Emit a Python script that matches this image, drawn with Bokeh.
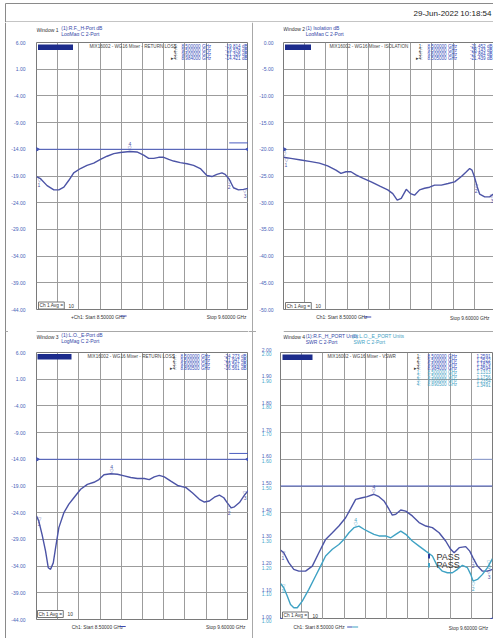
import numpy as np
from bokeh.plotting import figure
from bokeh.models import (Range1d, FixedTicker, Label, BoxAnnotation, Span,
                          NumeralTickFormatter)
from bokeh.layouts import column, row
from bokeh.embed import file_html
from bokeh.resources import INLINE
from bokeh.core.properties import value

# ---------------------------------------------------------------- data
FREQ_START = 8.5
FREQ_STOP = 9.6

# Window 1 : R.F. H-port return loss (dB)
rf_freq = [8.500, 8.521, 8.555, 8.590, 8.616, 8.642, 8.668, 8.693, 8.728, 8.762,
           8.797, 8.832, 8.866, 8.901, 8.935, 8.984, 9.021, 9.056, 9.082, 9.108,
           9.134, 9.160, 9.186, 9.211, 9.246, 9.281, 9.315, 9.350, 9.384, 9.410,
           9.436, 9.462, 9.479, 9.500, 9.522, 9.548, 9.574, 9.600]
rf_db = [-19.1, -19.5, -20.8, -21.6, -21.6, -21.1, -19.8, -18.4, -17.6, -17.0,
         -16.6, -15.9, -15.3, -14.8, -14.6, -14.4, -14.5, -15.1, -15.7, -15.7,
         -15.5, -15.5, -15.9, -16.2, -16.5, -16.7, -17.0, -17.6, -18.9, -19.1,
         -18.7, -18.4, -18.7, -19.6, -21.2, -21.6, -21.5, -21.3]

# Window 2 : isolation (dB)
iso_freq = [8.500, 8.538, 8.590, 8.642, 8.686, 8.729, 8.772, 8.798, 8.824, 8.850,
            8.876, 8.911, 8.955, 9.000, 9.041, 9.067, 9.090, 9.111, 9.137, 9.159,
            9.180, 9.206, 9.232, 9.258, 9.284, 9.319, 9.354, 9.388, 9.423, 9.449,
            9.466, 9.478, 9.490, 9.505, 9.518, 9.544, 9.570, 9.600]
iso_db = [-21.5, -21.7, -22.0, -22.3, -22.6, -23.1, -23.9, -24.5, -24.2, -24.2,
          -24.8, -25.4, -26.1, -26.9, -27.6, -28.3, -29.5, -29.2, -27.5, -28.3,
          -28.6, -27.6, -27.3, -27.1, -26.7, -26.7, -26.4, -26.1, -25.1, -24.2,
          -23.6, -23.9, -25.1, -27.0, -28.4, -28.9, -28.9, -28.1]

# Window 3 : L.O. E-port return loss (dB)
lo_freq = [8.500, 8.512, 8.529, 8.547, 8.561, 8.573, 8.587, 8.599, 8.616, 8.642,
           8.668, 8.694, 8.729, 8.764, 8.798, 8.824, 8.850, 8.885, 8.920, 8.955,
           8.989, 9.024, 9.059, 9.085, 9.111, 9.137, 9.163, 9.197, 9.232, 9.276,
           9.310, 9.345, 9.371, 9.397, 9.423, 9.449, 9.472, 9.489, 9.510, 9.527,
           9.553, 9.579, 9.600]
lo_db = [-24.6, -25.6, -28.1, -31.2, -34.3, -34.6, -33.4, -30.6, -26.8, -24.0,
         -22.4, -21.2, -19.6, -18.7, -18.3, -17.8, -16.9, -16.7, -16.8, -17.1,
         -17.4, -17.6, -17.6, -17.8, -17.3, -17.0, -17.3, -18.1, -18.9, -19.3,
         -20.3, -21.5, -22.0, -21.8, -21.1, -20.7, -21.2, -22.1, -23.1, -22.9,
         -22.1, -20.7, -19.8]

# Window 4 : VSWR, trace 1 (R.F. H-port) and trace 2 (L.O. E-port)
swr_rf_freq = [8.500, 8.517, 8.543, 8.569, 8.595, 8.630, 8.665, 8.699, 8.734, 8.769,
               8.803, 8.838, 8.864, 8.890, 8.924, 8.950, 8.985, 9.011, 9.037, 9.063,
               9.080, 9.098, 9.124, 9.150, 9.184, 9.219, 9.254, 9.288, 9.323, 9.357,
               9.383, 9.401, 9.427, 9.461, 9.482, 9.499, 9.522, 9.548, 9.574, 9.600]
swr_rf = [1.260, 1.250, 1.213, 1.188, 1.181, 1.181, 1.200, 1.250, 1.300, 1.325,
          1.350, 1.381, 1.415, 1.450, 1.456, 1.460, 1.469, 1.460, 1.444, 1.413,
          1.391, 1.394, 1.410, 1.406, 1.388, 1.363, 1.350, 1.344, 1.325, 1.294,
          1.263, 1.250, 1.269, 1.273, 1.256, 1.231, 1.200, 1.181, 1.181, 1.188]
swr_lo_freq = [8.500, 8.517, 8.535, 8.552, 8.569, 8.587, 8.613, 8.647, 8.682, 8.708,
               8.734, 8.769, 8.803, 8.829, 8.855, 8.881, 8.907, 8.933, 8.959, 8.985,
               9.011, 9.046, 9.072, 9.098, 9.124, 9.150, 9.184, 9.219, 9.254, 9.288,
               9.314, 9.340, 9.366, 9.392, 9.418, 9.444, 9.470, 9.487, 9.499, 9.522,
               9.548, 9.574, 9.600]
swr_lo = [1.135, 1.119, 1.088, 1.056, 1.044, 1.044, 1.069, 1.113, 1.163, 1.200,
          1.238, 1.263, 1.281, 1.300, 1.325, 1.344, 1.350, 1.338, 1.328, 1.319,
          1.313, 1.313, 1.306, 1.319, 1.331, 1.319, 1.294, 1.275, 1.256, 1.238,
          1.200, 1.181, 1.175, 1.175, 1.188, 1.203, 1.194, 1.169, 1.144, 1.150,
          1.169, 1.194, 1.228]

# axis tick values
ticks_w1 = [6, 1, -4, -9, -14, -19, -24, -29, -34, -39, -44]
ticks_w2 = [0, -5, -10, -15, -20, -25, -30, -35, -40, -45, -50]
ticks_w3 = [6, 1, -4, -9, -14, -19, -24, -29, -34, -39, -44]
ticks_w4 = [1.0, 1.1, 1.2, 1.3, 1.4, 1.5, 1.6, 1.7, 1.8, 1.9, 2.0]

# reference / limit lines
ref_w1, lim_w1 = -14.0, -12.8
ref_w2 = -20.0
ref_w3, lim_w3 = -14.0, -12.9
ref_w4, lim_w4 = 1.5, 1.6
lim_f = [9.5, 9.6]

# markers (frequency GHz) and readouts
mk_names = ["1:", "2:", "3:", "\u25b84:"]
mk_w1 = [8.5, 9.5, 9.6, 8.984]
rd_w1 = ["-19.814 dB", "-19.578 dB", "-21.326 dB", "-14.421 dB"]
mk_w2 = [8.5, 9.5, 9.6, 8.505]
rd_w2 = ["-21.452 dB", "-28.143 dB", "-27.884 dB", "-21.439 dB"]
mk_w3 = [8.5, 9.5, 9.6, 8.8905]
rd_w3 = ["-24.273 dB", "-21.947 dB", "-19.567 dB", "-16.561 dB"]
mk_w4a = [8.5, 9.5, 9.6, 8.984]
rd_w4a = ["1.2591", "1.2522", "1.1879", "1.4594"]
mk_w4b = [8.5, 9.5, 9.6, 8.8905]
rd_w4b = ["1.1313", "1.1756", "1.2354", "1.3491"]

# ---------------------------------------------------------------- style
FONT = "Liberation Sans"
TRACE = "#4c54a6"
TEAL = "#3fa2c4"
AXBLUE = "#4762b8"
TITLEBLUE = "#3447a8"
GRID = "#9c9c9c"
TXT = "#333333"
NAVY = "#1c2c8c"
SEP = "#a8a8a8"
REFC = "#4a5cc0"

FW, FH = 212, 267
W_TOTAL = 493
TOPB = 6            # space above each plot frame (first tick label)
BOTB = 3            # space below frames that carry an axis (last tick label)
Y_HDR, Y_A, Y_P1 = 0, 22, 36
Y_B = Y_P1 + TOPB + FH + BOTB       # 312
Y_P2 = 346
Y_C = Y_P2 + TOPB + FH + BOTB       # 622
Y_C4 = Y_P2 + TOPB + FH             # 619
Y_END = 638
X_LS, X_L, X_SEP, X_R, X_P4, X_END = 0, 8, 248, 256, 280, 493
P4_TOP = Y_P2 + TOPB


def make_fig(width, bl, yr, ticks, standoff, axis=True):
    p = figure(frame_width=FW, frame_height=FH, title=None,
               min_border_left=bl, min_border_right=width - bl - FW,
               min_border_top=TOPB, min_border_bottom=BOTB if axis else 0,
               x_range=Range1d(FREQ_START, FREQ_STOP), y_range=Range1d(*yr),
               x_axis_location=None, y_axis_location="left" if axis else None,
               output_backend="svg", toolbar_location=None,
               background_fill_color="white", border_fill_color="white",
               outline_line_color="#7a7a7a", outline_line_width=1)
    if axis:
        ax = p.yaxis[0]
        ax.ticker = FixedTicker(ticks=ticks)
        ax.formatter = NumeralTickFormatter(format="0.00")
        ax.axis_line_color = None
        ax.major_tick_line_color = None
        ax.minor_tick_line_color = None
        ax.major_label_standoff = standoff
        ax.major_label_text_font = FONT
        ax.major_label_text_font_size = "5px"
        ax.major_label_text_color = AXBLUE
    p.xgrid.ticker = FixedTicker(ticks=list(np.linspace(FREQ_START, FREQ_STOP, 11)))
    p.ygrid.ticker = FixedTicker(ticks=ticks)
    for g in list(p.xgrid) + list(p.ygrid):
        g.grid_line_color = GRID
        g.grid_line_width = 1
    return p


def strip(x0, x1, y0, y1):
    s = figure(width=x1 - x0, height=y1 - y0, min_border=0, title=None,
               x_range=Range1d(x0, x1), y_range=Range1d(y1, y0),
               x_axis_location=None, y_axis_location=None,
               toolbar_location=None, output_backend="svg",
               outline_line_color=None, background_fill_color="white",
               border_fill_color="white")
    for g in s.grid:
        g.visible = False
    return s


def txt(s, x, y, t, size=5.0, color=TXT, align="left", baseline="middle"):
    s.text(x=[x], y=[y], text=[t], text_font=value(FONT),
           text_font_size=f"{size}px", text_color=color, text_align=align,
           text_baseline=baseline)


def rect(s, x0, x1, y0, y1, color):
    s.quad(left=[x0], right=[x1], top=[y0], bottom=[y1], fill_color=color,
           line_color=None)


def put(p, fl, fb, px, py, text, size=5.0, color=TXT, align="left",
        baseline="middle", **kw):
    p.add_layout(Label(x=px - fl, y=fb - py, x_units="screen", y_units="screen",
                       text=text, text_font=FONT, text_font_size=f"{size}px",
                       text_color=color, text_align=align,
                       text_baseline=baseline, **kw))


def box(p, fl, fb, x0, x1, y0, y1, color):
    p.add_layout(BoxAnnotation(left=x0 - fl, right=x1 - fl, top=fb - y0,
                               bottom=fb - y1, left_units="screen",
                               right_units="screen", top_units="screen",
                               bottom_units="screen", fill_color=color,
                               fill_alpha=1, line_color=None, level="overlay"))


def markers(p, fr, vals, mk, color):
    mv = np.interp(mk, fr, vals)
    for i, (f, v) in enumerate(zip(mk, mv)):
        if f <= FREQ_START:
            al, xo = "left", 1
        elif f >= FREQ_STOP:
            al, xo = "right", -2
        else:
            al, xo = "center", 0
        active = (i == 3)
        p.text(x=[f], y=[v], text=["\u25bd"], text_font=value("DejaVu Sans"),
               text_font_size="5px", text_color=color, text_align=al,
               text_baseline="bottom", x_offset=xo, y_offset=0 if active else 6)
        p.text(x=[f], y=[v], text=[str(i + 1)], text_font=value(FONT),
               text_font_size="5px", text_color=color, text_align=al,
               text_baseline="bottom" if active else "top", x_offset=xo,
               y_offset=-5 if active else 6)


def readouts(p, fl, fb, x_num, x_freq, x_val, y0, dy, mk, rd, color, start_row=0):
    for i, (n, f, r) in enumerate(zip(mk_names, mk, rd)):
        y = y0 + dy * (i + start_row)
        nm = n if start_row == 0 else n.replace("\u25b8", "")
        put(p, fl, fb, x_num, y, nm, 4.6, color if start_row else TXT, "right")
        put(p, fl, fb, x_freq, y, f"{f:.6f} GHz", 4.6, color)
        put(p, fl, fb, x_val, y, r, 4.6, color, "right")


def avg_box(p, fl, fb, x, y):
    put(p, fl, fb, x, y, "Ch 1 Avg =", 4.8, TXT, background_fill_color="white",
        border_line_color="#777777", padding=1)
    put(p, fl, fb, x + 30, y, "10", 4.8)


# ---------------------------------------------------------------- header
hdr = strip(0, W_TOTAL, Y_HDR, Y_A)
rect(hdr, 5, W_TOTAL, 2.5, 3.5, "#8a8a8a")
rect(hdr, 4.5, 5.5, 3, Y_A, "#8a8a8a")
rect(hdr, 5, W_TOTAL, 21, 22, "#8a8a8a")
txt(hdr, 413, 13, "29-Jun-2022", 8, "#222222")
txt(hdr, 491, 13, "10:18:54", 8, "#222222", "right")

# left border strip and centre separator strip
ls = strip(X_LS, X_L, Y_A, Y_END)
rect(ls, 4.5, 5.5, Y_A, Y_END, "#8a8a8a")
rect(ls, 5, X_L, 330.5, 331.5, SEP)
sep = strip(X_SEP, X_R, Y_A, Y_END)
rect(sep, 251.5, 252.5, Y_A, Y_END, SEP)
rect(sep, X_SEP, X_R, 330.5, 331.5, SEP)

# ---------------------------------------------------------------- window 1
fl, fb = 36, 309
p1 = make_fig(X_SEP - X_L, 36 - X_L, (-44, 6), ticks_w1, 5)
p1.line(rf_freq, rf_db, line_color=TRACE, line_width=1.4)
p1.add_layout(Span(location=ref_w1, dimension="width", line_color=REFC, line_width=1))
p1.line(lim_f, [lim_w1, lim_w1], line_color=REFC, line_width=1)
p1.scatter([FREQ_START], [ref_w1], marker="triangle", angle=-np.pi / 2, size=5, color="#3a4bb0")
p1.scatter([FREQ_STOP], [ref_w1], marker="triangle", angle=np.pi / 2, size=5, color="#3a4bb0")
markers(p1, rf_freq, rf_db, mk_w1, TRACE)
box(p1, fl, fb, 37.5, 72.5, 44, 49.5, NAVY)
put(p1, fl, fb, 40, 46.8, "R.F._H-Port", 4, "#c8d0ff")
put(p1, fl, fb, 89, 46, "MIX16002 - WG16 Mixer - RETURN LOSS", 4.6, "#444444")
readouts(p1, fl, fb, 177, 181, 247, 45.5, 4.0, mk_w1, rd_w1, "#2f48b8")
avg_box(p1, fl, fb, 38, 305)

a1 = strip(X_L, X_SEP, Y_A, Y_P1)
txt(a1, 8, 29, "Window 1", 5)
txt(a1, 36, 27, "(1):R.F._H-Port dB", 5, TITLEBLUE)
txt(a1, 36, 33, "LogMag C  2-Port", 5, TITLEBLUE)

# ---------------------------------------------------------------- window 2
fl, fb = 281, 309
p2 = make_fig(X_END - X_R, 281 - X_R, (-50, 0), ticks_w2, 4)
p2.line(iso_freq, iso_db, line_color=TRACE, line_width=1.4)
p2.scatter([FREQ_START], [ref_w2], marker="triangle", angle=-np.pi / 2, size=5, color="#3a4bb0")
markers(p2, iso_freq, iso_db, mk_w2, TRACE)
box(p2, fl, fb, 282.5, 308.5, 44, 49.5, NAVY)
put(p2, fl, fb, 284, 46.8, "Isolation", 4, "#c8d0ff")
put(p2, fl, fb, 327, 46, "MIX16002 - WG16 Mixer - ISOLATION", 4.6, "#444444")
readouts(p2, fl, fb, 420, 425, 490, 45.5, 4.0, mk_w2, rd_w2, "#2f48b8")
avg_box(p2, fl, fb, 283, 305.5)

a2 = strip(X_R, X_END, Y_A, Y_P1)
txt(a2, 255.5, 28, "Window 2", 5)
txt(a2, 281, 27, "(1) Isolation dB", 5, TITLEBLUE)
txt(a2, 281, 33, "LogMag C  2-Port", 5, TITLEBLUE)

# ---------------------------------------------------------------- middle strips
b1 = strip(X_L, X_SEP, Y_B, Y_P2)
txt(b1, 47, 316.5, "+Ch1: Start  8.50000 GHz", 4.8)
rect(b1, 103, 110, 315, 316, "#3a4bb0")
txt(b1, 247, 317, "Stop  9.60000 GHz", 4.8, TXT, "right")
rect(b1, X_L, X_SEP, 330.5, 331.5, SEP)
txt(b1, 8, 336, "Window 3", 5)
txt(b1, 36, 334, "(1):L.O._E-Port dB", 5, TITLEBLUE)
txt(b1, 36, 340.5, "LogMag C  2-Port", 5, TITLEBLUE)

b2 = strip(X_R, X_END, Y_B, Y_P2)
txt(b2, 293, 317, "Ch1: Start  8.50000 GHz", 4.8)
rect(b2, 347, 355, 316, 317, "#3a4bb0")
txt(b2, 490, 318, "Stop  9.60000 GHz", 4.8, TXT, "right")
rect(b2, X_R, X_END, 330.5, 331.5, SEP)
txt(b2, 255.5, 336, "Window 4", 5)
txt(b2, 281, 335.5, "(1):R.F._H_PORT Units", 5, TITLEBLUE)
txt(b2, 281, 341, "SWR C  2-Port", 5, TITLEBLUE)
txt(b2, 333, 335.5, "(2):L.O._E_PORT Units", 5, TEAL)
txt(b2, 335, 341, "SWR C  2-Port", 5, TEAL)

# ---------------------------------------------------------------- window 3
fl, fb = 36, 619
p3 = make_fig(X_SEP - X_L, 36 - X_L, (-44, 6), ticks_w3, 5)
p3.line(lo_freq, lo_db, line_color=TRACE, line_width=1.4)
p3.add_layout(Span(location=ref_w3, dimension="width", line_color=REFC, line_width=1))
p3.line(lim_f, [lim_w3, lim_w3], line_color=REFC, line_width=1)
p3.scatter([FREQ_START], [ref_w3], marker="triangle", angle=-np.pi / 2, size=5, color="#3a4bb0")
p3.scatter([FREQ_STOP], [ref_w3], marker="triangle", angle=np.pi / 2, size=5, color="#3a4bb0")
markers(p3, lo_freq, lo_db, mk_w3, TRACE)
box(p3, fl, fb, 37, 71, 353.5, 359, NAVY)
put(p3, fl, fb, 39, 356.3, "L.O._E-Port", 4, "#c8d0ff")
put(p3, fl, fb, 87, 356, "MIX16002 - WG16 Mixer - RETURN LOSS", 4.6, "#444444")
readouts(p3, fl, fb, 176, 180, 246, 355.5, 4.2, mk_w3, rd_w3, "#2f48b8")
avg_box(p3, fl, fb, 37, 613.5)

c1 = strip(X_L, X_SEP, Y_C, Y_END)
txt(c1, 48, 626.5, "Ch1: Start  8.50000 GHz", 4.8)
rect(c1, 102, 109, 625.5, 626.5, "#3a4bb0")
txt(c1, 246, 627, "Stop  9.60000 GHz", 4.8, TXT, "right")

# ---------------------------------------------------------------- window 4
fl, fb = 280, 619
p4 = make_fig(X_END - X_P4, 0, (1.0, 2.0), ticks_w4, 0, axis=False)
p4.add_layout(Span(location=ref_w4, dimension="width", line_color=REFC, line_width=1))
p4.line(lim_f, [lim_w4, lim_w4], line_color="#8fa0d8", line_width=1)
p4.line(swr_rf_freq, swr_rf, line_color=TRACE, line_width=1.4)
p4.line(swr_lo_freq, swr_lo, line_color=TEAL, line_width=1.4)
p4.scatter([FREQ_START], [1.0], marker="triangle", angle=-np.pi / 2, size=5, color="#3a4bb0")
p4.scatter([FREQ_STOP], [1.0], marker="triangle", angle=np.pi / 2, size=5, color="#3a4bb0")
markers(p4, swr_rf_freq, swr_rf, mk_w4a, TRACE)
markers(p4, swr_lo_freq, swr_lo, mk_w4b, TEAL)
box(p4, fl, fb, 282, 312, 354, 359.5, NAVY)
put(p4, fl, fb, 284, 356.8, "R.F._H_PORT", 4, "#c8d0ff")
put(p4, fl, fb, 327, 356, "MIX16002 - WG16 Mixer - VSWR", 4.6, "#444444")
readouts(p4, fl, fb, 420, 427, 490, 355.5, 4.1, mk_w4a, rd_w4a, "#2f48b8")
readouts(p4, fl, fb, 420, 427, 490, 355.5, 4.1, mk_w4b, rd_w4b, TEAL, start_row=4)
box(p4, fl, fb, 427.5, 429.5, 553.5, 558, "#2a3a9a")
box(p4, fl, fb, 427.5, 429.5, 562.5, 567, TEAL)
put(p4, fl, fb, 436, 556, "PASS", 9, "#333333")
put(p4, fl, fb, 436, 564.5, "PASS", 9, "#333333")
avg_box(p4, fl, fb, 282, 615)

# tick-label column for window 4 (two traces -> two label colours),
# sharing window 4's value scale
span_v = ticks_w4[-1] - ticks_w4[0]
px_per = FH / span_v
t4 = figure(width=X_P4 - X_R, height=Y_END - Y_P2, min_border=0, title=None,
            x_range=Range1d(X_R, X_P4),
            y_range=Range1d(ticks_w4[0] - (Y_END - Y_C4) / px_per,
                            ticks_w4[-1] + (P4_TOP - Y_P2) / px_per),
            x_axis_location=None, y_axis_location=None, toolbar_location=None,
            output_backend="svg", outline_line_color=None,
            background_fill_color="white", border_fill_color="white")
for g in t4.grid:
    g.visible = False
lab4 = [f"{t:.2f}" for t in ticks_w4]
t4.text(x=[271] * len(ticks_w4), y=ticks_w4, text=lab4, text_font=value(FONT),
        text_font_size="5px", text_color=AXBLUE, text_align="right",
        text_baseline="middle", y_offset=-3)
t4.text(x=[271] * len(ticks_w4), y=ticks_w4, text=lab4, text_font=value(FONT),
        text_font_size="5px", text_color="#45a8cc", text_align="right",
        text_baseline="middle", y_offset=1.5)

c2 = strip(X_P4, X_END, Y_C4, Y_END)
txt(c2, 293, 627, "Ch1: Start  8.50000 GHz", 4.8)
rect(c2, 347, 352, 626, 627, "#3a4bb0")
rect(c2, 352, 358, 626, 627, TEAL)
txt(c2, 490, 627.5, "Stop  9.60000 GHz", 4.8, TXT, "right")

# ---------------------------------------------------------------- layout
col_left = column(a1, p1, b1, p3, c1)
col_right = column(a2, p2, b2, row(t4, column(p4, c2)))
layout = column(hdr, row(ls, col_left, sep, col_right))
open("out.html", "w").write(file_html(layout, INLINE))
